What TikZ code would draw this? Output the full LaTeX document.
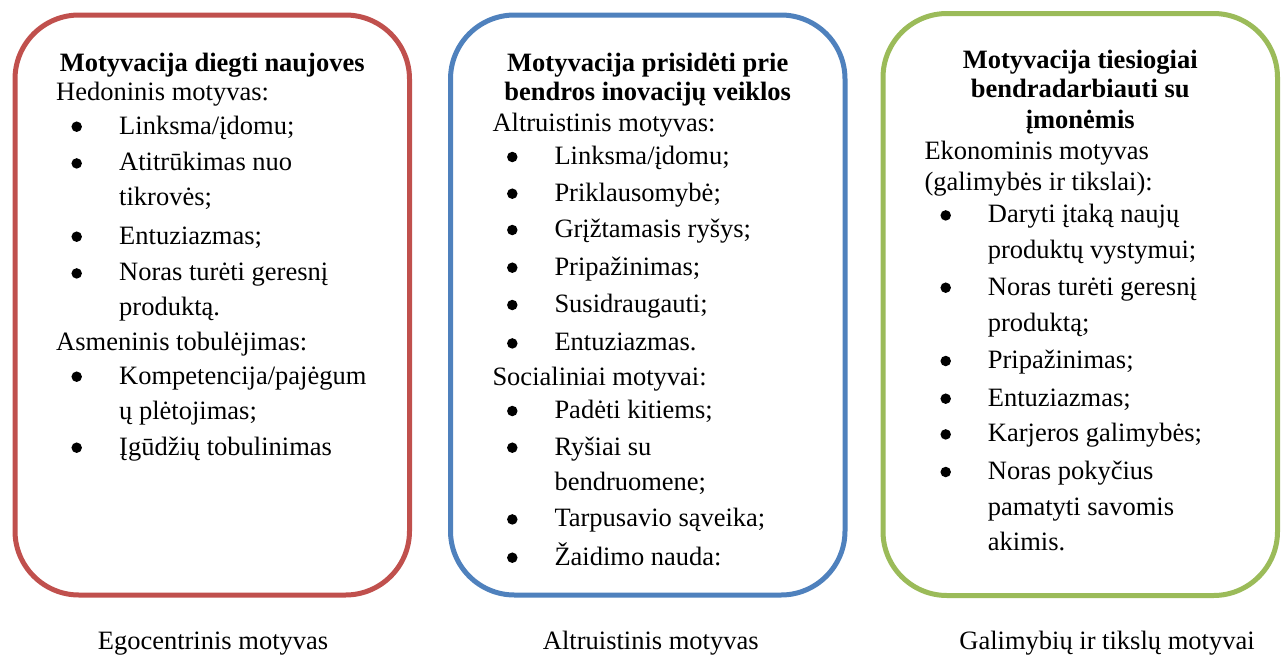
\documentclass[tikz,border=0pt]{standalone}
\usepackage{fontspec}
\setmainfont{Liberation Serif}
\definecolor{boxred}{HTML}{C0504D}
\definecolor{boxblue}{HTML}{4F81BD}
\definecolor{boxgreen}{HTML}{9BBB59}
% bulleted line: name, bullet x, text x, baseline y, text
\newcommand\bitem[5]{%
  \node[dot] (#1d) at (#2,#4-7.3) {};
  \node[txt] (#1) at (#3,#4) {#5};}
\begin{document}
\begin{tikzpicture}[x=1pt,y={(0pt,-1pt)},
  panel/.style={draw, line width=5pt, rounded corners=64pt, inner sep=0pt,
    minimum width=394.5pt, fill=white},
  txt/.style={anchor=base west, inner sep=0pt, font=\fontsize{26.5}{34}\selectfont},
  head/.style={anchor=base, inner sep=0pt, font=\fontsize{26.5}{34}\selectfont\bfseries},
  caption/.style={anchor=base, inner sep=0pt, font=\fontsize{26.5}{34}\selectfont},
  dot/.style={circle, fill=black, inner sep=0pt, minimum size=10.5pt}]
\useasboundingbox (0,0) rectangle (1282,654);

% three rounded panels
\node[panel, draw=boxred, minimum height=580pt] (red) at (212.25,305) {};
\node[panel, draw=boxblue, minimum height=580pt] (blue) at (647.75,305) {};
\node[panel, draw=boxgreen, minimum height=582pt] (green) at (1080.25,304.5) {};

% left panel
\node[head] (rt) at (212.25,71) {Motyvacija diegti naujoves};
\node[txt] (rh1) at (56,100.7) {Hedoninis motyvas:};
\bitem{ra}{76.7}{119}{134}{Linksma/įdomu;}
\bitem{rb}{76.7}{119}{170.7}{Atitrūkimas nuo}
\node[txt] (rb2) at (119,205) {tikrovės;};
\bitem{rc}{76.7}{119}{244}{Entuziazmas;}
\bitem{re}{76.7}{119}{280.7}{Noras turėti geresnį}
\node[txt] (re2) at (119,315) {produktą.};
\node[txt] (rh2) at (56,350.7) {Asmeninis tobulėjimas:};
\bitem{rf}{76.7}{119}{384}{Kompetencija/pajėgum}
\node[txt] (rf2) at (119,419.3) {ų plėtojimas;};
\bitem{rg}{76.7}{119}{455}{Įgūdžių tobulinimas}

% middle panel
\node[head] (bt1) at (647.75,71) {Motyvacija prisidėti prie};
\node[head] (bt2) at (647.75,100) {bendros inovacijų veiklos};
\node[txt] (bh1) at (492.3,131) {Altruistinis motyvas:};
\bitem{ba}{512.3}{554.3}{164.3}{Linksma/įdomu;}
\bitem{bb}{512.3}{554.3}{201}{Priklausomybė;}
\bitem{bc}{512.3}{554.3}{237.3}{Grįžtamasis ryšys;}
\bitem{bd}{512.3}{554.3}{275}{Pripažinimas;}
\bitem{be}{512.3}{554.3}{312.3}{Susidraugauti;}
\bitem{bf}{512.3}{554.3}{350.7}{Entuziazmas.}
\node[txt] (bh2) at (492.3,385) {Socialiniai motyvai:};
\bitem{bg}{512.3}{554.3}{418.3}{Padėti kitiems;}
\bitem{bi}{512.3}{554.3}{455}{Ryšiai su}
\node[txt] (bi2) at (554.3,490) {bendruomene;};
\bitem{bj}{512.3}{554.3}{526.7}{Tarpusavio sąveika;}
\bitem{bk}{512.3}{554.3}{565}{Žaidimo nauda:}

% right panel
\node[head] (gt1) at (1080.25,68.3) {Motyvacija tiesiogiai};
\node[head] (gt2) at (1080.25,97.7) {bendradarbiauti su};
\node[head] (gt3) at (1080.25,128.3) {įmonėmis};
\node[txt] (gh1) at (924.3,159.3) {Ekonominis motyvas};
\node[txt] (gh2) at (924.3,190) {(galimybės ir tikslai):};
\bitem{ga}{945.7}{987.7}{222.7}{Daryti įtaką naujų}
\node[txt] (ga2) at (987.7,258.3) {produktų vystymui;};
\bitem{gb}{945.7}{987.7}{295}{Noras turėti geresnį}
\node[txt] (gb2) at (987.7,331.7) {produktą;};
\bitem{gc}{945.7}{987.7}{368.3}{Pripažinimas;}
\bitem{gd}{945.7}{987.7}{406}{Entuziazmas;}
\bitem{ge}{945.7}{987.7}{441.7}{Karjeros galimybės;}
\bitem{gf}{945.7}{987.7}{479.3}{Noras pokyčius}
\node[txt] (gf2) at (987.7,515) {pamatyti savomis};
\node[txt] (gf3) at (987.7,550) {akimis.};

% captions under the panels
\node[caption] (rcap) at (213,649) {Egocentrinis motyvas};
\node[caption] (bcap) at (650.8,649) {Altruistinis motyvas};
\node[caption] (gcap) at (1107,649) {Galimybių ir tikslų motyvai};
\end{tikzpicture}
\end{document}
